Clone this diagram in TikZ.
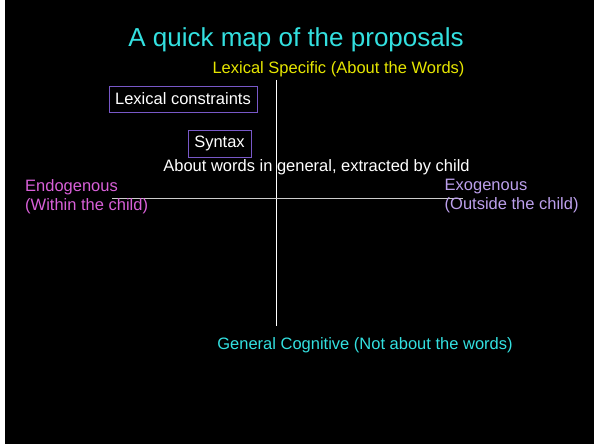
\documentclass[tikz,border=0pt]{standalone}
\usepackage{fontspec}
\setmainfont{Liberation Sans}
\usetikzlibrary{positioning}

\definecolor{titlecyan}{HTML}{33E0E0}
\definecolor{lexyellow}{HTML}{E6E600}
\definecolor{endopink}{HTML}{D860D8}
\definecolor{exolilac}{HTML}{BCA0EC}
\definecolor{boxpurple}{HTML}{7858C8}

\tikzset{
  propbox/.style={draw=boxpurple, line width=0.9pt, text=white, inner sep=0pt,
    font=\fontsize{16.5}{19}\selectfont},
  axislabel/.style={font=\fontsize{16.5}{19}\selectfont, inner sep=0pt, align=left}
}

\begin{document}
\begin{tikzpicture}[x=1pt, y=1pt]
\useasboundingbox (0,0) rectangle (594,444);
\fill[black] (5,0) rectangle (594,444);
% title
\node[text=titlecyan, font=\fontsize{26}{30}\selectfont] (title) at (296,404) {A quick map of the proposals};
% axes
\coordinate (top) at (276.5,364);
\coordinate (bottom) at (276.5,118);
\coordinate (left) at (112,246);
\coordinate (right) at (463,246);
\draw[white, line width=0.8pt] (top) -- (bottom);
\draw[white!80!black, line width=0.8pt] (left) -- (right);
% axis labels
\node[axislabel, text=lexyellow] (lexspec) at (338.5,375) {Lexical Specific (About the Words)};
\node[axislabel, text=titlecyan] (gencog) at (365,99) {General Cognitive (Not about the words)};
\node[axislabel, text=endopink, anchor=west] (endo) at (25,247.5) {Endogenous\\(Within the child)};
\node[axislabel, text=exolilac, anchor=west] (exo) at (444.5,247.5) {Exogenous\\(Outside the child)};
% proposals
\node[propbox, minimum width=148pt, minimum height=26pt] (lexcon) at (183,345) {Lexical constraints};
\node[propbox, minimum width=63pt, minimum height=27pt] (syntax) at (219.5,300.5) {Syntax};
\node[axislabel, text=white] (general) at (316.5,277) {About words in general, extracted by child};
\end{tikzpicture}
\end{document}
